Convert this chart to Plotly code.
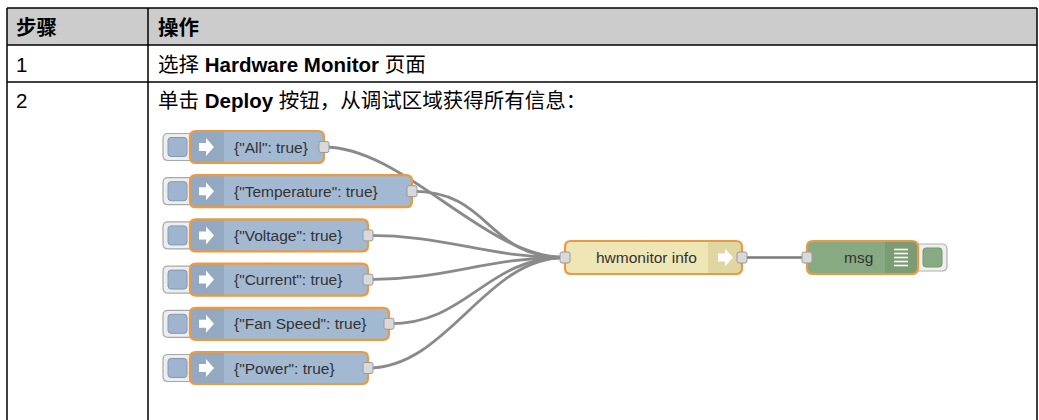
import plotly.graph_objects as go

W, H = 1039, 420

# ---- content ----
header_labels = ["步骤", "操作"]
step_numbers = ["1", "2"]
step_texts = [
    "选择 <b>Hardware Monitor</b> 页面",
    "单击 <b>Deploy</b> 按钮，从调试区域获得所有信息：",
]
inject_labels = ['{"All": true}', '{"Temperature": true}', '{"Voltage": true}',
                 '{"Current": true}', '{"Fan Speed": true}', '{"Power": true}']
function_label = "hwmonitor info"
debug_label = "msg"

# ---- layout constants ----
TL, TR, TT = 7, 1037, 8
HEAD_B, ROW1_B, COL_X = 45, 82, 148
INJ_X0 = 190
INJ_RIGHT = [324, 412, 368, 368, 389, 368]
INJ_Y0, INJ_PITCH, NODE_H = 147, 44.2, 32
FN_X0, FN_X1, FN_Y = 565, 742, 257.5
DBG_X0, DBG_X1 = 807, 918

BORDER = "#ea9a42"
INJ_FILL, INJ_ICON = "#a3b9d1", "#93a9c1"
FN_FILL, FN_ICON = "#efe6b6", "#e0d6a2"
DBG_FILL, DBG_ICON = "#88aa82", "#7b9c74"
WIRE = "#8a8a8a"
FONT_TABLE = "Arial, 'Liberation Sans', 'Noto Sans CJK SC', sans-serif"
FONT_NODE = "Arial, 'Liberation Sans', sans-serif"
TABLE_FS = 20.5


def rr(x0, y0, x1, y1, r, left=True, right=True):
    rl = r if left else 0
    rrr = r if right else 0
    return (f"M{x0+rl},{y0} L{x1-rrr},{y0} Q{x1},{y0} {x1},{y0+rrr} "
            f"L{x1},{y1-rrr} Q{x1},{y1} {x1-rrr},{y1} L{x0+rl},{y1} "
            f"Q{x0},{y1} {x0},{y1-rl} L{x0},{y0+rl} Q{x0},{y0} {x0+rl},{y0} Z")


shapes = []
ann = []


def path(p, fill=None, line=None, width=0):
    d = dict(type="path", path=p, xref="x", yref="y", layer="above")
    d["fillcolor"] = fill if fill else "rgba(0,0,0,0)"
    d["line"] = dict(color=line if line else "rgba(0,0,0,0)", width=width)
    shapes.append(d)


def text(x, y, s, size, anchor="left", color="#000", family=FONT_TABLE):
    ann.append(dict(x=x, y=y, xref="x", yref="y", text=s, showarrow=False,
                    xanchor=anchor, yanchor="middle",
                    font=dict(size=size, color=color, family=family)))


# ---- table ----
shapes.append(dict(type="rect", x0=TL, x1=TR, y0=TT, y1=HEAD_B, xref="x", yref="y",
                   fillcolor="#cccccc", line=dict(width=0), layer="below"))
for (x0, y0, x1, y1) in [(TL, TT, TR, TT), (TL, HEAD_B, TR, HEAD_B), (TL, ROW1_B, TR, ROW1_B),
                         (TL, TT, TL, H + 5), (TR, TT, TR, H + 5), (COL_X, TT, COL_X, H + 5)]:
    shapes.append(dict(type="line", x0=x0, y0=y0, x1=x1, y1=y1, xref="x", yref="y",
                       line=dict(color="#000", width=1.5), layer="above"))

row_centers = [(TT + HEAD_B) / 2 + 0.5, (HEAD_B + ROW1_B) / 2 + 0.5, ROW1_B + 18.5]
text(14, row_centers[0], f"<b>{header_labels[0]}</b>", TABLE_FS)
text(156, row_centers[0], f"<b>{header_labels[1]}</b>", TABLE_FS)
for i, (n, t) in enumerate(zip(step_numbers, step_texts)):
    text(14, row_centers[i + 1], n, TABLE_FS)
    text(156, row_centers[i + 1], t, TABLE_FS)

# ---- wires ----
ys = [INJ_Y0 + i * INJ_PITCH for i in range(len(inject_labels))]
for xr, y in zip(INJ_RIGHT, ys):
    c = 80
    path(f"M{xr},{y} C{xr+c},{y} {FN_X0-c},{FN_Y} {FN_X0},{FN_Y}", line=WIRE, width=2.8)
path(f"M{FN_X1},{FN_Y} L{DBG_X0},{FN_Y}", line="#7a7a7a", width=2.5)


def port(cx, cy):
    path(rr(cx - 5, cy - 5.5, cx + 5, cy + 5.5, 2), fill="#d9d9d9", line="#999999", width=1)


def block_arrow(cx, cy, fill="white"):
    p = (f"M{cx-7},{cy-4} L{cx},{cy-4} L{cx},{cy-9} L{cx+8},{cy} L{cx},{cy+9} "
         f"L{cx},{cy+4} L{cx-7},{cy+4} Z")
    path(p, fill=fill)


# ---- inject nodes ----
for lab, xr, y in zip(inject_labels, INJ_RIGHT, ys):
    y0, y1 = y - NODE_H / 2, y + NODE_H / 2
    path(rr(163, y0 + 2.5, 197, y1 - 2.5, 5), fill="#eeeeee", line="#a8a8a8", width=1.2)
    path(rr(168, y0 + 6.5, 187, y1 - 6.5, 3), fill="#9fb5cf", line="#8399b3", width=1)
    path(rr(INJ_X0, y0, xr, y1, 6), fill=INJ_FILL)
    path(rr(INJ_X0, y0, INJ_X0 + 34, y1, 6, right=False), fill=INJ_ICON)
    block_arrow(206, y)
    path(rr(INJ_X0, y0, xr, y1, 6), line=BORDER, width=2.2)
    port(xr, y)
    text(232, y, lab, 15.5, color="#333333", family=FONT_NODE)

# ---- function node ----
fy0, fy1 = FN_Y - 16.5, FN_Y + 16.5
path(rr(FN_X0, fy0, FN_X1, fy1, 6), fill=FN_FILL)
path(rr(FN_X1 - 34, fy0, FN_X1, fy1, 6, left=False), fill=FN_ICON)
block_arrow(725, FN_Y)
path(rr(FN_X0, fy0, FN_X1, fy1, 6), line=BORDER, width=2.2)
port(FN_X0, FN_Y)
port(FN_X1, FN_Y)
text(699, FN_Y, function_label, 15.5, anchor="right", color="#333333", family=FONT_NODE)

# ---- debug node ----
path(rr(DBG_X1 - 4, fy0 + 3, 947, fy1 - 3, 5), fill="#eeeeee", line="#b0b0b0", width=1.2)
path(rr(923, fy0 + 7, 942, fy1 - 7, 3), fill=DBG_FILL, line="#76966f", width=1)
path(rr(DBG_X0, fy0, DBG_X1, fy1, 6), fill=DBG_FILL)
path(rr(DBG_X1 - 33, fy0, DBG_X1, fy1, 6, left=False), fill=DBG_ICON)
for k in range(5):
    yy = FN_Y - 8 + k * 4
    path(f"M894,{yy} L908,{yy}", line="white", width=1.6)
path(rr(DBG_X0, fy0, DBG_X1, fy1, 6), line=BORDER, width=2.2)
port(DBG_X0, FN_Y)
text(875, FN_Y, debug_label, 15.5, anchor="right", color="#333333", family=FONT_NODE)

fig = go.Figure(go.Scatter(x=[0, W], y=[0, H], mode="markers",
                           marker=dict(opacity=0), hoverinfo="skip", showlegend=False))
fig.update_layout(
    width=W, height=H, margin=dict(l=0, r=0, t=0, b=0),
    paper_bgcolor="white", plot_bgcolor="white",
    xaxis=dict(range=[0, W], visible=False, fixedrange=True),
    yaxis=dict(range=[H, 0], visible=False, fixedrange=True),
    shapes=shapes, annotations=ann, showlegend=False,
)
fig.write_html(
    "out.html",
    config={"displayModeBar": False},
    post_script="document.body.style.margin='0';document.body.style.overflow='hidden';"
                "document.documentElement.style.overflow='hidden';",
)
